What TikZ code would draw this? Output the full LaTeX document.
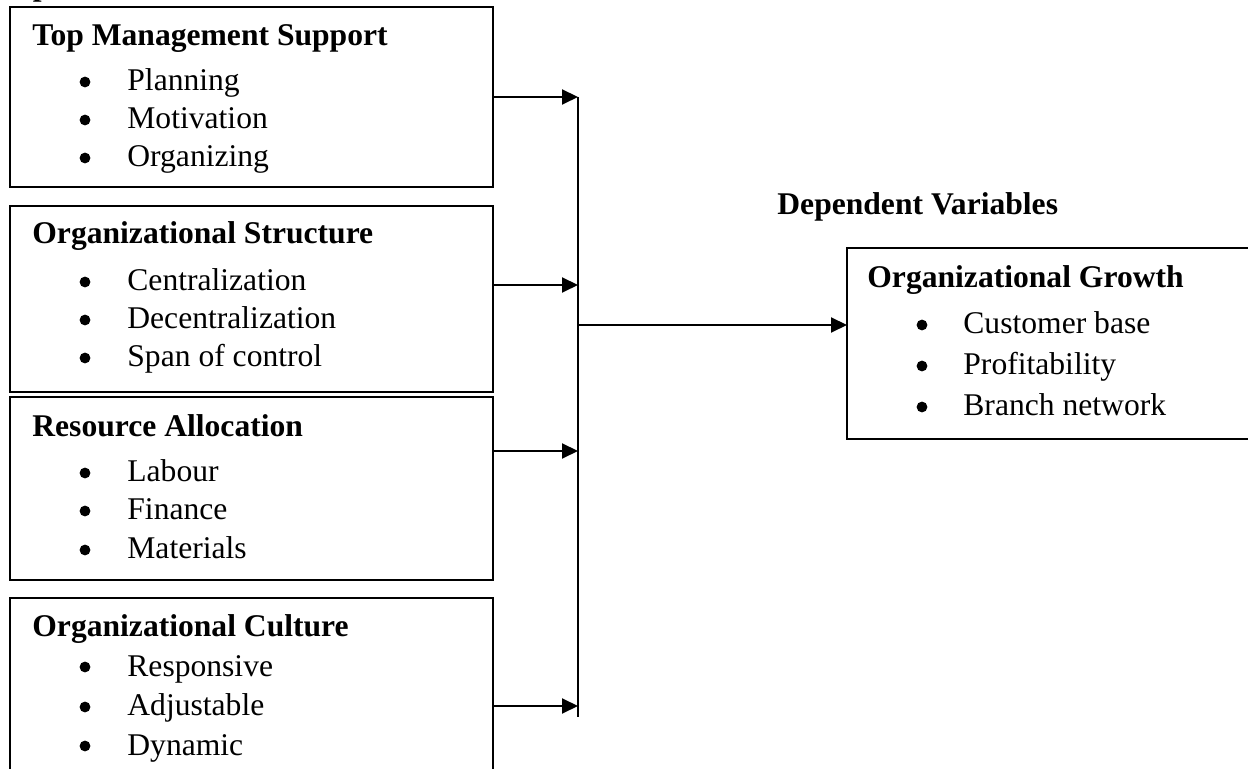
\documentclass[tikz,border=0pt]{standalone}
\usepackage{fontspec}
\setmainfont{Liberation Serif}
\usetikzlibrary{arrows.meta}
\begin{document}
\begin{tikzpicture}[x=0.5pt,y=-0.5pt,
  box/.style={draw=black, line width=1pt, rectangle, inner sep=0pt, outer sep=0pt, anchor=north west},
  ttl/.style={anchor=base west, inner sep=0pt, font=\fontsize{15.8}{18}\selectfont\bfseries},
  itm/.style={anchor=base west, inner sep=0pt, font=\fontsize{15.8}{18}\selectfont},
  bul/.style={circle, fill=black, inner sep=0pt, minimum size=5.4pt},
  arr/.style={-{Triangle[length=8pt,width=7.5pt]}, line width=1pt},
  bus/.style={line width=1pt}]
\clip (0,0) rectangle (1248,769);
% cropped label fragment at top
\node[ttl] (indep) at (-29,-4) {Independent Variables};
% boxes
\node[box, minimum width=241.5pt, minimum height=90pt] (b1) at (10,7) {};
\node[box, minimum width=241.5pt, minimum height=93pt] (b2) at (10,206) {};
\node[box, minimum width=241.5pt, minimum height=91.5pt] (b3) at (10,397) {};
\node[box, minimum width=241.5pt, minimum height=101pt] (b4) at (10,598) {};
\node[box, minimum width=203pt, minimum height=95.5pt] (b5) at (847,248) {};
% box 1
\node[ttl] (t1) at (32,46) {Top Management Support};
\node[bul] (p1a) at (85,82) {}; \node[itm] (i1a) at (127,91) {Planning};
\node[bul] (p1b) at (85,120) {}; \node[itm] (i1b) at (127,129) {Motivation};
\node[bul] (p1c) at (85,158) {}; \node[itm] (i1c) at (127,167) {Organizing};
% box 2
\node[ttl] (t2) at (32,244) {Organizational Structure};
\node[bul] (p2a) at (85,282) {}; \node[itm] (i2a) at (127,291) {Centralization};
\node[bul] (p2b) at (85,320) {}; \node[itm] (i2b) at (127,329) {Decentralization};
\node[bul] (p2c) at (85,358) {}; \node[itm] (i2c) at (127,367) {Span of control};
% box 3
\node[ttl] (t3) at (32,437) {Resource Allocation};
\node[bul] (p3a) at (85,473) {}; \node[itm] (i3a) at (127,482) {Labour};
\node[bul] (p3b) at (85,511) {}; \node[itm] (i3b) at (127,520) {Finance};
\node[bul] (p3c) at (85,550) {}; \node[itm] (i3c) at (127,559) {Materials};
% box 4
\node[ttl] (t4) at (32,637) {Organizational Culture};
\node[bul] (p4a) at (85,667) {}; \node[itm] (i4a) at (127,676) {Responsive};
\node[bul] (p4b) at (85,707) {}; \node[itm] (i4b) at (127,716) {Adjustable};
\node[bul] (p4c) at (85,746) {}; \node[itm] (i4c) at (127,755) {Dynamic};
% dependent
\node[ttl] (dv) at (777,215) {Dependent Variables};
\node[ttl] (t5) at (867,288) {Organizational Growth};
\node[bul] (p5a) at (922,325) {}; \node[itm] (i5a) at (963,334) {Customer base};
\node[bul] (p5b) at (922,366) {}; \node[itm] (i5b) at (963,375) {Profitability};
\node[bul] (p5c) at (922,407) {}; \node[itm] (i5c) at (963,416) {Branch network};
% connectors
\coordinate (j1) at (578,97);
\coordinate (j2) at (578,285);
\coordinate (j3) at (578,451);
\coordinate (j4) at (578,706);
\coordinate (jend) at (578,717);
\coordinate (jo) at (578,325);
\draw[bus] (j1) -- (jend);
\draw[arr] (b1.east |- j1) -- (j1);
\draw[arr] (b2.east |- j2) -- (j2);
\draw[arr] (b3.east |- j3) -- (j3);
\draw[arr] (b4.east |- j4) -- (j4);
\draw[arr] (jo) -- (jo -| b5.west);
\end{tikzpicture}
\end{document}
